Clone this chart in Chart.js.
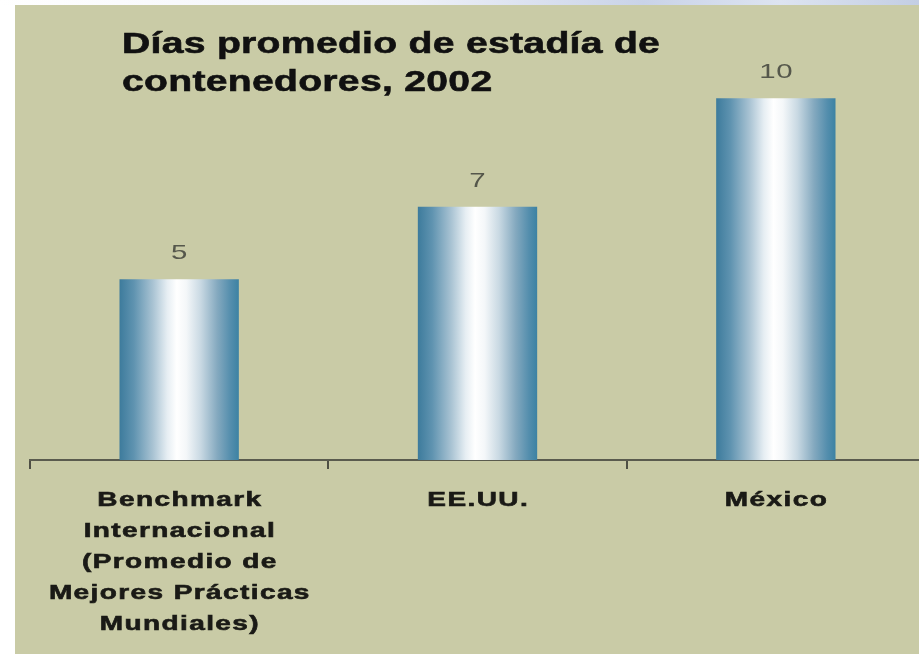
<!DOCTYPE html>
<html lang="es">
<head>
<meta charset="UTF-8">
<title>Días promedio de estadía de contenedores, 2002</title>
<script src="https://cdn.jsdelivr.net/npm/chart.js"></script>
<style>
    html, body {
        margin: 0;
        padding: 0;
        width: 919px;
        height: 654px;
        overflow: hidden;
        background: #ffffff;
    }
    .topstrip {
        position: absolute;
        left: 0; top: 0; width: 919px; height: 5px;
        background: linear-gradient(90deg, #ffffff 0%, #eef1f8 45%, #c9d3e8 70%, #dde4f1 85%, #c3cee4 100%);
    }
    .panel {
        position: absolute;
        left: 15px; top: 5px; width: 904px; height: 649px;
        background: #c9cba6;
    }
    #chart {
        position: absolute;
        left: 0; top: 0;
    }
</style>
</head>
<body>
<div class="topstrip"></div>
<div class="panel"></div>
<canvas id="chart" width="935" height="654"></canvas>

<script>
    // data
    const titleLines = ['Días promedio de estadía de', 'contenedores, 2002'];
    const categories = [
        ['Benchmark', 'Internacional', '(Promedio de', 'Mejores Prácticas', 'Mundiales)'],
        ['EE.UU.'],
        ['México']
    ];
    const dias = [5, 7, 10];
    const yMax = 12;

    // draws text a bit wider, like the stretched fonts in the original
    function drawWide(ctx, text, x, y, sx, spacing, align, stroke) {
        ctx.save();
        ctx.letterSpacing = spacing + 'px';
        ctx.textAlign = 'left';
        let w = ctx.measureText(text).width - spacing;
        ctx.translate(x, y);
        ctx.scale(sx, 1);
        let x0 = align === 'center' ? -w / 2 : 0;
        ctx.fillText(text, x0, 0);
        if (stroke) {
            ctx.strokeStyle = ctx.fillStyle;
            ctx.lineWidth = stroke;
            ctx.strokeText(text, x0, 0);
        }
        ctx.restore();
    }

    function barGradient(context) {
        const chart = context.chart;
        if (!chart.chartArea) return '#5a90ad';
        const xs = chart.scales.x;
        const c = xs.getPixelForValue(context.dataIndex);
        const w = xs.width / categories.length * 0.4;
        const g = chart.ctx.createLinearGradient(c - w / 2, 0, c + w / 2, 0);
        g.addColorStop(0, '#3d7b9c');
        g.addColorStop(0.12, '#5f93b0');
        g.addColorStop(0.28, '#a9c3d3');
        g.addColorStop(0.40, '#e6eef3');
        g.addColorStop(0.48, '#ffffff');
        g.addColorStop(0.56, '#f4f7f9');
        g.addColorStop(0.68, '#c9d9e3');
        g.addColorStop(0.82, '#84a9bf');
        g.addColorStop(0.93, '#548ead');
        g.addColorStop(1, '#3c82a3');
        return g;
    }

    const textPlugin = {
        id: 'textPlugin',
        afterDatasetsDraw(chart) {
            const ctx = chart.ctx;
            // value labels
            ctx.save();
            ctx.fillStyle = '#55574b';
            ctx.font = '21px "Liberation Sans", Arial, sans-serif';
            ctx.textBaseline = 'alphabetic';
            chart.getDatasetMeta(0).data.forEach((bar, i) => {
                drawWide(ctx, String(dias[i]), bar.x, bar.y - 20, 1.4, 0.5, 'center');
            });
            ctx.restore();

            // category labels
            ctx.save();
            ctx.fillStyle = '#1a1a16';
            ctx.font = 'bold 20px "Liberation Sans", Arial, sans-serif';
            const xs = chart.scales.x;
            categories.forEach((lines, i) => {
                const cx = xs.getPixelForValue(i);
                lines.forEach((line, j) => {
                    drawWide(ctx, line, cx, chart.chartArea.bottom + 46 + j * 31, 1.4, 1, 'center', 0.6);
                });
            });
            ctx.restore();

            // title
            ctx.save();
            ctx.fillStyle = '#111111';
            ctx.font = 'bold 29px "Liberation Sans", Arial, sans-serif';
            titleLines.forEach((line, j) => {
                drawWide(ctx, line, 122, 53 + j * 38, 1.35, 0.2, 'left', 0.6);
            });
            ctx.restore();
        }
    };

    new Chart(document.getElementById('chart'), {
        type: 'bar',
        data: {
            labels: categories,
            datasets: [{
                label: 'Días',
                data: dias,
                backgroundColor: barGradient,
                borderWidth: 0,
                categoryPercentage: 1,
                barPercentage: 0.4
            }]
        },
        options: {
            responsive: false,
            animation: false,
            layout: { padding: { left: 30, right: 10, top: 26, bottom: 0 } },
            plugins: {
                legend: { display: false },
                title: { display: false },
                tooltip: { enabled: false }
            },
            scales: {
                y: {
                    display: false,
                    min: 0,
                    max: yMax
                },
                x: {
                    ticks: { display: false },
                    grid: {
                        offset: true,
                        drawOnChartArea: false,
                        drawTicks: true,
                        tickLength: 9,
                        color: '#4e4f44',
                        lineWidth: 2
                    },
                    border: { display: true, color: '#5a5b4e', width: 2 },
                    afterFit: function (scale) {
                        scale.height = 194;
                    }
                }
            }
        },
        plugins: [textPlugin]
    });
</script>
</body>
</html>
